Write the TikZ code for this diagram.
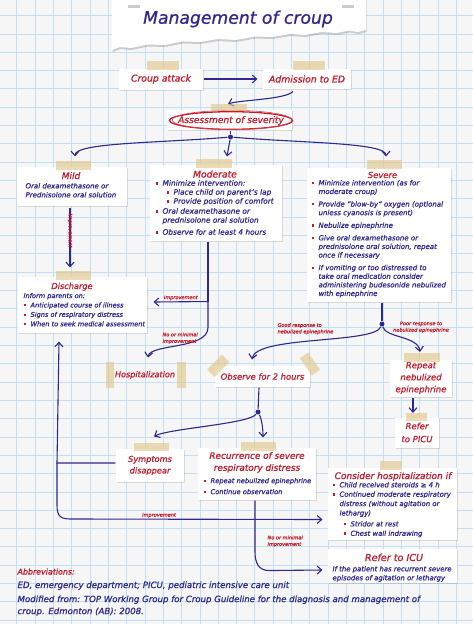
\documentclass[tikz,border=0pt]{standalone}
\usepackage{fontspec}
\setmainfont{DejaVu Sans}[ItalicFeatures={FakeBold=0.9}]
\usetikzlibrary{calc, shadows, arrows.meta}
\definecolor{ink}{RGB}{48,40,142}
\definecolor{redink}{RGB}{200,26,44}
\definecolor{gridblue}{RGB}{194,224,245}
\definecolor{paper}{RGB}{246,246,247}
\definecolor{tapetan}{RGB}{226,200,140}
\newcommand{\fsz}[2]{\fontsize{#1}{#2}\selectfont\itshape}
\newcommand{\bitem}{\makebox[7pt][l]{\textcolor{redink}{\rule[1.1pt]{2.2pt}{2.2pt}}}}
\newcommand{\bcont}{\hspace*{7pt}}
\newcommand{\bsub}{\hspace*{11pt}\bitem}

\begin{document}
\begin{tikzpicture}[x=1pt, y=-1pt, >={Straight Barb[length=4.5pt, width=8pt]}, line width=1.1pt,
    card/.style={fill=white, inner sep=0pt, drop shadow={shadow xshift=1.2pt, shadow yshift=-1.2pt, opacity=0.25}},
    tapestrip/.style={fill=tapetan, fill opacity=0.65},
    redhead/.style={text=redink, font=\fsz{8.6}{12}, inner sep=0pt, align=center},
    bluetext/.style={text=ink, font=\fsz{7}{9}, inner sep=0pt, align=left, anchor=north west},
    smallnote/.style={text=redink, font=\fsz{5}{6.5}, inner sep=0pt, align=left},
    flow/.style={draw=ink, ->},
    link/.style={draw=ink},
    junction/.style={circle, fill=ink, inner sep=0pt, minimum size=5pt},
    gridline/.style={draw=gridblue, line width=0.8pt}]
    \useasboundingbox (0,0) rectangle (472,624);
    \fill[paper] (0,0) rectangle (472,624);
    \foreach \i in {0,...,25} \draw[gridline] ({16.7+18.32*\i},-1) -- ++(0,626);
    \foreach \j in {0,...,33} \draw[gridline] (-1,{15.6+18.32*\j}) -- ++(474,0);

    \fill[white, drop shadow={shadow xshift=0.5pt, shadow yshift=-2pt, opacity=0.35}] (112,-3) -- (366,-3) -- (366,30) -- (358,32) -- (349,30.5) -- (337,33) -- (322,32) -- (305,35) -- (290,34) -- (272,37) -- (255,36.5) -- (236,40) -- (218,39) -- (200,42) -- (182,41.5) -- (165,45) -- (148,44.5) -- (131,48) -- (120,47) -- (112,50) -- cycle;
    \fill[gray!40] (128,5) rectangle (140,7.5);
    \fill[gray!40] (342,5) rectangle (354,7.5);
    \node[text=ink, font=\fsz{17.2}{20}, inner sep=0pt] (title) at (238,19) {Management of croup};

    \node[card, redhead, font=\fsz{9.3}{11}, minimum width=84pt, minimum height=21pt] (attack) at (161,79) {Croup attack};
    \node[card, redhead, font=\fsz{9.3}{11}, minimum width=88pt, minimum height=20pt] (admit) at (307,79) {Admission to ED};
    \draw[flow, shorten >=5pt] (attack) -- (admit);

    \node[card, minimum width=125pt, minimum height=20pt] (assessbg) at (229.5,120) {};
    \node[redhead, font=\fsz{9.1}{11}] (assess) at (231,120.5) {Assessment of severity};
    \draw[redink, line width=1.3pt] (assess.center) ellipse [x radius=61.5, y radius=8.8];
    \draw[redink!80, line width=0.6pt] ($(assess.center)+(1,-0.5)$) ellipse [x radius=60, y radius=9.6];
    \draw[flow] ($(admit.south)+(-14,2)$) .. controls +(-8,8) and +(12,-4) .. ($(assessbg.north)+(-1.5,-5.5)$);

    \node[card, minimum width=110pt, minimum height=39pt] (mild) at (72,186.5) {};
    \node[redhead, anchor=base, font=\fsz{9}{12}] (mildhead) at (71,179) {Mild};
    \node[bluetext] (mildtext) at (25,182.5) {Oral dexamethasone or\\Prednisolone oral solution};

    \node[card, minimum width=132pt, minimum height=76pt] (moderate) at (216,203) {};
    \node[redhead, anchor=base, font=\fsz{9.2}{12}] (modhead) at (215,177.5) {Moderate};
    \node[bluetext, font=\fsz{7.4}{9}] (modtext) at (155,179.5) {\bitem Minimize intervention:\\ \bsub Place child on parent's lap\\ \bsub Provide position of comfort\\[1pt] \bitem Oral dexamethasone or\\ \bcont prednisolone oral solution\\[3pt] \bitem Observe for at least 4 hours};

    \node[card, minimum width=144pt, minimum height=134pt] (severe) at (379,235) {};
    \node[redhead, anchor=base, font=\fsz{8.4}{12}] (sevhead) at (382.5,178) {Severe};
    \node[bluetext, font=\fsz{7}{8.6}] (sevtext) at (311,179.5) {\bitem Minimize intervention (as for\\ \bcont moderate croup)\\[4pt] \bitem Provide ``blow-by'' oxygen (optional\\ \bcont unless cyanosis is present)\\[4pt] \bitem Nebulize epinephrine\\[4pt] \bitem Give oral dexamethasone or\\ \bcont prednisolone oral solution, repeat\\ \bcont once if necessary\\[4pt] \bitem If vomiting or too distressed to\\ \bcont take oral medication consider\\ \bcont administering budesonide nebulized\\ \bcont with epinephrine};

    \node[junction] (split1) at (230.5,137) {};
    \draw[link] ($(assessbg.south)+(1,0)$) -- (split1);
    \draw[flow] (split1) .. controls +(-70,6) and +(0,-14) .. ($(mild.north)+(3,-10)$);
    \draw[flow] (split1) -- ($(moderate.north)+(11,-8)$);
    \draw[flow] (split1) .. controls +(70,6) and +(0,-14) .. ($(severe.north)+(7,-11)$);

    \node[card, minimum width=129pt, minimum height=56pt] (discharge) at (82.5,305) {};
    \node[redhead, anchor=base, font=\fsz{8.2}{12}] (dischead) at (72,289) {Discharge};
    \node[bluetext, font=\fsz{6.6}{9.4}] (disctext) at (23,292.5) {Inform parents on:\\ \bitem Anticipated course of illness\\ \bitem Signs of respiratory distress\\ \bitem When to seek medical assessment};
    \draw[flow] ($(mild.south)+(-2,1)$) -- node[smallnote, rotate=-90, pos=0.45, xshift=-4pt] (impr0) {Improvement} ($(discharge.north)+(-12.5,-9)$);

    \coordinate (modjoin) at ($(moderate.south)+(-8,60)$);
    \draw[link] ($(moderate.south)+(-8,0)$) -- (modjoin);
    \draw[flow] (modjoin) -- node[smallnote, above=1pt] (impr1) {Improvement} ($(discharge.east)+(6,-3)$);
    \node[redhead, font=\fsz{8.1}{10}] (hosp) at (145,375) {Hospitalization};
    \draw[flow] (modjoin) -- ++(0,26) .. controls +(0,22) and +(2,-14) .. ($(hosp.north)+(3,-13)$);
    \node[smallnote, anchor=north west] (nomin1) at (162,332) {No or minimal\\improvement};

    \node[card, redhead, font=\fsz{8.4}{10}, minimum width=95pt, minimum height=21pt] (observe) at (262.5,376.5) {Observe for 2 hours};
    \node[card, redhead, font=\fsz{8.5}{12}, minimum width=62pt, minimum height=37pt] (repeat) at (421,378) {Repeat\\nebulized\\epinephrine};
    \node[card, redhead, font=\fsz{8.5}{13}, minimum width=44pt, minimum height=30pt] (picu) at (417,432.5) {Refer\\to PICU};

    \node[junction] (ssplit) at (382,324) {};
    \draw[link] ($(severe.south)+(3,0)$) -- (ssplit);
    \draw[flow] (ssplit) .. controls +(-8,20) and +(4,-24) .. ($(observe.north)+(-10.5,-6)$);
    \draw[flow] (ssplit) .. controls +(4,14) and +(-2,-16) .. ($(repeat.north)+(-1,-7)$);
    \node[smallnote, anchor=north west] (good) at (277,322.5) {Good response to\\nebulized epinephrine};
    \node[smallnote, anchor=north, align=center] (poor) at (421,321) {Poor response to\\nebulized epinephrine};
    \draw[flow] ($(repeat.south)+(-8,1)$) -- ($(picu.north)+(-4,-4)$);

    \node[card, redhead, font=\fsz{8.2}{11.5}, minimum width=68pt, minimum height=33pt] (symptoms) at (150,465.5) {Symptoms\\disappear};
    \node[card, minimum width=118pt, minimum height=52pt] (recurrence) at (257,474) {};
    \node[redhead, anchor=north, font=\fsz{8.9}{12}] (recurhead) at (257,451.5) {Recurrence of severe\\respiratory distress};
    \node[bluetext, font=\fsz{6.7}{11}] (recurtext) at (203,477.5) {\bitem Repeat nebulized epinephrine\\ \bitem Continue observation};

    \node[junction] (osplit) at (258,412) {};
    \draw[link] ($(observe.south)+(-3.5,0)$) -- (osplit);
    \draw[flow] (osplit) .. controls +(-10,12) and +(15,-8) .. ($(symptoms.north)+(4,-12)$);
    \draw[flow] (osplit) .. controls +(4,8) and +(0,-8) .. ($(recurrence.north)+(6,-10)$);

    \node[card, minimum width=129pt, minimum height=72pt] (consider) at (392.5,504) {};
    \node[redhead, anchor=base, font=\fsz{9}{12}] (conshead) at (393,479) {Consider hospitalization if};
    \node[bluetext, font=\fsz{6.9}{9.4}] (constext) at (332,481.5) {\bitem Child received steroids ≥ 4 h\\ \bitem Continued moderate respiratory\\ \bcont distress (without agitation or\\ \bcont lethargy)\\[1.5pt] \bsub Stridor at rest\\ \bsub Chest wall indrawing};

    \node[card, minimum width=129pt, minimum height=34pt] (icu) at (392.5,566) {};
    \node[redhead, anchor=base, font=\fsz{9.6}{12}] (icuhead) at (394,561) {Refer to ICU};
    \node[bluetext, font=\fsz{6.9}{9}] (icutext) at (332,565.5) {If the patient has recurrent severe\\episodes of agitation or lethargy};

    \coordinate (j1) at (57,463);
    \draw[flow] ($(symptoms.west)+(0,-2.5)$) -- (j1) -- ($(discharge.south)+(-23.5,8)$);
    \draw[flow] (j1) -- ++(0,42) .. controls +(0,12) and +(-10,0) .. ++(14,14) -- node[smallnote, pos=0.35, above=1pt] (impr2) {Improvement} ($(consider.west)+(-5,15.5)$);
    \draw[flow] ($(recurrence.south)+(-2,0)$) -- ++(0,51) .. controls +(0,12) and +(-10,0) .. ++(14,19) -- ($(icu.west)+(-5,4)$);
    \node[smallnote, anchor=north west] (nomin2) at (267,535) {No or minimal\\improvement};

    \fill[tapestrip] (147,61) rectangle (179,70);
    \fill[tapestrip] (293,61) rectangle (325,70);
    \fill[tapestrip] (211,104) rectangle (247,111);
    \fill[tapestrip] (56,161) rectangle (91,170);
    \fill[tapestrip] (196,159) rectangle (232,168);
    \fill[tapestrip] (367,160) rectangle (402,169);
    \fill[tapestrip] (56,271) rectangle (91,280);
    \fill[tapestrip] (106,362) rectangle (114,388);
    \fill[tapestrip] (177,362) rectangle (186,388);
    \fill[tapestrip, shift={(218.3,365.8)}, rotate=45] (-10.5,-5.3) rectangle (10.5,5.3);
    \fill[tapestrip, shift={(310,364)}, rotate=-55] (-10.5,-5) rectangle (10.5,5);
    \fill[tapestrip] (404,353) rectangle (440,362);
    \fill[tapestrip] (406,413) rectangle (427,421);
    \fill[tapestrip] (134,443) rectangle (169,451);
    \fill[tapestrip] (241,442) rectangle (276,451);
    \fill[tapestrip] (380,461) rectangle (402,470);

    \node[anchor=base west, text=redink, font=\fsz{7.9}{10}, inner sep=0pt] (abbrhead) at (17,574.5) {Abbreviations:};
    \node[anchor=base west, text=ink, font=\fsz{8.6}{12}, inner sep=0pt] (abbr) at (17,588) {ED, emergency department; PICU, pediatric intensive care unit};
    \node[anchor=north west, text=ink, font=\fsz{8.6}{12}, inner sep=0pt, align=left] (source) at (17,595) {Modified from: TOP Working Group for Croup Guideline for the diagnosis and management of\\croup. Edmonton (AB): 2008.};
\end{tikzpicture}
\end{document}
